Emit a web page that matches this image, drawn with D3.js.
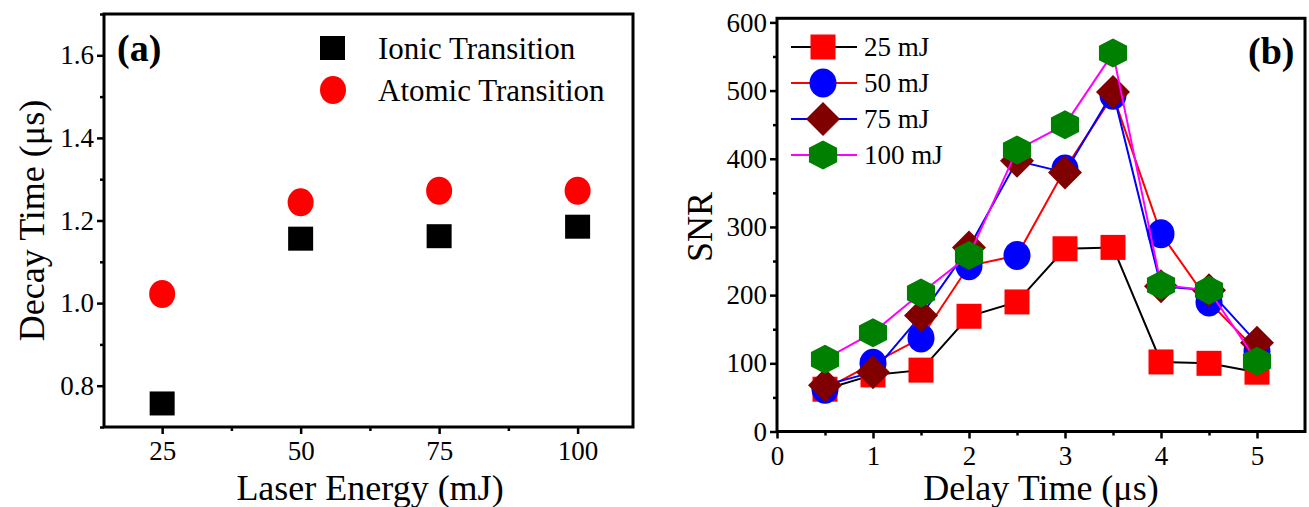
<!DOCTYPE html>
<html>
<head>
<meta charset="utf-8">
<script src="https://cdn.jsdelivr.net/npm/d3@7"></script>
<style>
  body { margin: 0; background: #fff; }
  text { font-family: "Liberation Serif", "Times New Roman", serif; }
</style>
</head>
<body>
<div id="chart"></div>
<script>
// panel (a) data
var energies = [25, 50, 75, 100];
var ionic = [0.757, 1.156, 1.162, 1.185];
var atomic = [1.022, 1.244, 1.272, 1.272];
var decayTicks = [0.8, 1.0, 1.2, 1.4, 1.6];

// panel (b) data
var delays = [0.5, 1, 1.5, 2, 2.5, 3, 3.5, 4, 4.5, 5];
var snr25 = [62, 83, 90, 169, 190, 268, 270, 102, 100, 87];
var snr50 = [62, 100, 137, 243, 258, 385, 493, 290, 190, 118];
var snr75 = [68, 87, 170, 270, 397, 380, 498, 213, 207, 130];
var snr100 = [106, 145, 203, 258, 413, 450, 555, 215, 207, 103];
var seriesNames = ["25 mJ", "50 mJ", "75 mJ", "100 mJ"];
var snrTicks = [0, 100, 200, 300, 400, 500, 600];
var delayTicks = [0, 1, 2, 3, 4, 5];

var W = 1309, H = 507;
var svg = d3.select("#chart").append("svg")
    .attr("width", W).attr("height", H);

// helpers
function styleAxis(g) {
  g.select(".domain").remove();
  g.selectAll(".tick line").attr("stroke", "#000").attr("stroke-width", 2.5);
  g.selectAll(".tick text").attr("fill", "#000").style("font-size", "27px");
}
function frame(x0, x1, y0, y1) {
  svg.append("rect")
      .attr("x", x0).attr("y", y1)
      .attr("width", x1 - x0).attr("height", y0 - y1)
      .attr("fill", "none").attr("stroke", "#000").attr("stroke-width", 3);
}
function hexPath(r, sx) {
  var p = d3.path();
  for (var i = 0; i < 6; i++) {
    var a = Math.PI / 2 + i * Math.PI / 3;
    var px = sx * r * Math.cos(a), py = -r * Math.sin(a);
    if (i == 0) p.moveTo(px, py); else p.lineTo(px, py);
  }
  p.closePath();
  return p.toString();
}
function diamondPath(r) {
  var p = d3.path();
  p.moveTo(0, -r); p.lineTo(r, 0); p.lineTo(0, r); p.lineTo(-r, 0);
  p.closePath();
  return p.toString();
}

// ---------- panel (a) ----------
var xa = d3.scaleLinear().domain([14.5, 110]).range([104, 633]);
var ya = d3.scaleLinear().domain([0.7, 1.7]).range([427, 14]);

svg.append("g")
    .attr("transform", "translate(0," + ya(0.7) + ")")
    .call(d3.axisBottom(xa).tickValues([37.5, 62.5, 87.5]).tickSize(4).tickFormat(""))
    .call(styleAxis);
svg.append("g")
    .attr("transform", "translate(0," + ya(0.7) + ")")
    .call(d3.axisBottom(xa).tickValues(energies).tickSize(7).tickPadding(7))
    .call(styleAxis);
svg.append("g")
    .attr("transform", "translate(" + xa(14.5) + ",0)")
    .call(d3.axisLeft(ya).tickValues([0.7, 0.9, 1.1, 1.3, 1.5, 1.7]).tickSize(4).tickFormat(""))
    .call(styleAxis);
svg.append("g")
    .attr("transform", "translate(" + xa(14.5) + ",0)")
    .call(d3.axisLeft(ya).tickValues(decayTicks).tickSize(7).tickPadding(3).tickFormat(d3.format(".1f")))
    .call(styleAxis);
frame(xa(14.5), xa(110), ya(0.7), ya(1.7));

svg.append("g").selectAll("rect")
    .data(energies)
    .enter().append("rect")
      .attr("x", function(d) { return xa(d) - 12.5; })
      .attr("y", function(d, i) { return ya(ionic[i]) - 12; })
      .attr("width", 25).attr("height", 24)
      .attr("fill", "#000");
svg.append("g").selectAll("ellipse")
    .data(energies)
    .enter().append("ellipse")
      .attr("cx", function(d) { return xa(d); })
      .attr("cy", function(d, i) { return ya(atomic[i]); })
      .attr("rx", 13).attr("ry", 14)
      .attr("fill", "#ff0000");

// legend (a)
svg.append("rect").attr("x", 320).attr("y", 36).attr("width", 25).attr("height", 24).attr("fill", "#000");
svg.append("ellipse").attr("cx", 333).attr("cy", 90).attr("rx", 13).attr("ry", 14).attr("fill", "#ff0000");
svg.append("text").attr("x", 378).attr("y", 59).style("font-size", "31px").text("Ionic Transition");
svg.append("text").attr("x", 378).attr("y", 101).style("font-size", "31px").text("Atomic Transition");

svg.append("text").attr("x", 117).attr("y", 61)
    .style("font-size", "38px").style("font-weight", "bold").text("(a)");

svg.append("text")
    .attr("x", 370).attr("y", 500)
    .attr("text-anchor", "middle").style("font-size", "36px")
    .text("Laser Energy (mJ)");
svg.append("text")
    .attr("transform", "translate(44," + ya(1.2) + ") rotate(-90)")
    .attr("text-anchor", "middle").style("font-size", "36px")
    .text("Decay Time (\u03bcs)");

// ---------- panel (b) ----------
var xb = d3.scaleLinear().domain([0, 5.5]).range([777, 1305]);
var yb = d3.scaleLinear().domain([0, 606]).range([431.5, 18.3]);

svg.append("g")
    .attr("transform", "translate(0," + yb(0) + ")")
    .call(d3.axisBottom(xb).tickValues(delays.filter(function(d) { return d % 1 != 0; })).tickSize(4).tickFormat(""))
    .call(styleAxis);
svg.append("g")
    .attr("transform", "translate(0," + yb(0) + ")")
    .call(d3.axisBottom(xb).tickValues(delayTicks).tickSize(7).tickPadding(7).tickFormat(d3.format("d")))
    .call(styleAxis);
svg.append("g")
    .attr("transform", "translate(" + xb(0) + ",0)")
    .call(d3.axisLeft(yb).tickValues([50, 150, 250, 350, 450, 550]).tickSize(4).tickFormat(""))
    .call(styleAxis);
svg.append("g")
    .attr("transform", "translate(" + xb(0) + ",0)")
    .call(d3.axisLeft(yb).tickValues(snrTicks).tickSize(7).tickPadding(3))
    .call(styleAxis);
frame(xb(0), xb(5.5), yb(0), yb(606));

var lineColors = ["#000000", "#ff0000", "#0000ff", "#ff00ff"];
var fillColors = ["#ff0000", "#0000ff", "#800000", "#008000"];
var shapes = [
  d3.symbol().type(d3.symbolSquare).size(25 * 25)(),
  null,
  diamondPath(17),
  hexPath(14.5, 1.12)
];
var allSeries = [snr25, snr50, snr75, snr100];

var line = d3.line()
    .x(function(d) { return xb(d[0]); })
    .y(function(d) { return yb(d[1]); });

function drawMarker(g, k, x, y) {
  if (k == 1) {
    g.append("ellipse").attr("cx", x).attr("cy", y).attr("rx", 13.5).attr("ry", 14.5).attr("fill", fillColors[k]);
  } else {
    g.append("path").attr("d", shapes[k])
        .attr("transform", "translate(" + x + "," + y + ")")
        .attr("fill", fillColors[k]);
  }
}

allSeries.forEach(function(vals, k) {
  var pts = delays.map(function(d, i) { return [d, vals[i]]; });
  var g = svg.append("g");
  g.append("path").datum(pts)
      .attr("d", line)
      .attr("fill", "none")
      .attr("stroke", lineColors[k])
      .attr("stroke-width", 2);
  pts.forEach(function(p) { drawMarker(g, k, xb(p[0]), yb(p[1])); });
});

// legend (b)
var lg = svg.append("g");
seriesNames.forEach(function(name, k) {
  var ly = 47 + k * 36;
  lg.append("line").attr("x1", 791).attr("x2", 857).attr("y1", ly).attr("y2", ly)
      .attr("stroke", lineColors[k]).attr("stroke-width", 2);
  drawMarker(lg, k, 823, ly);
  lg.append("text").attr("x", 864).attr("y", ly + 9).style("font-size", "27px").text(name);
});

svg.append("text").attr("x", 1248).attr("y", 64)
    .style("font-size", "38px").style("font-weight", "bold").text("(b)");

svg.append("text")
    .attr("x", 1041).attr("y", 500)
    .attr("text-anchor", "middle").style("font-size", "36px")
    .text("Delay Time (\u03bcs)");
svg.append("text")
    .attr("transform", "translate(712," + yb(300) + ") rotate(-90)")
    .attr("text-anchor", "middle").style("font-size", "36px")
    .text("SNR");
</script>
</body>
</html>
